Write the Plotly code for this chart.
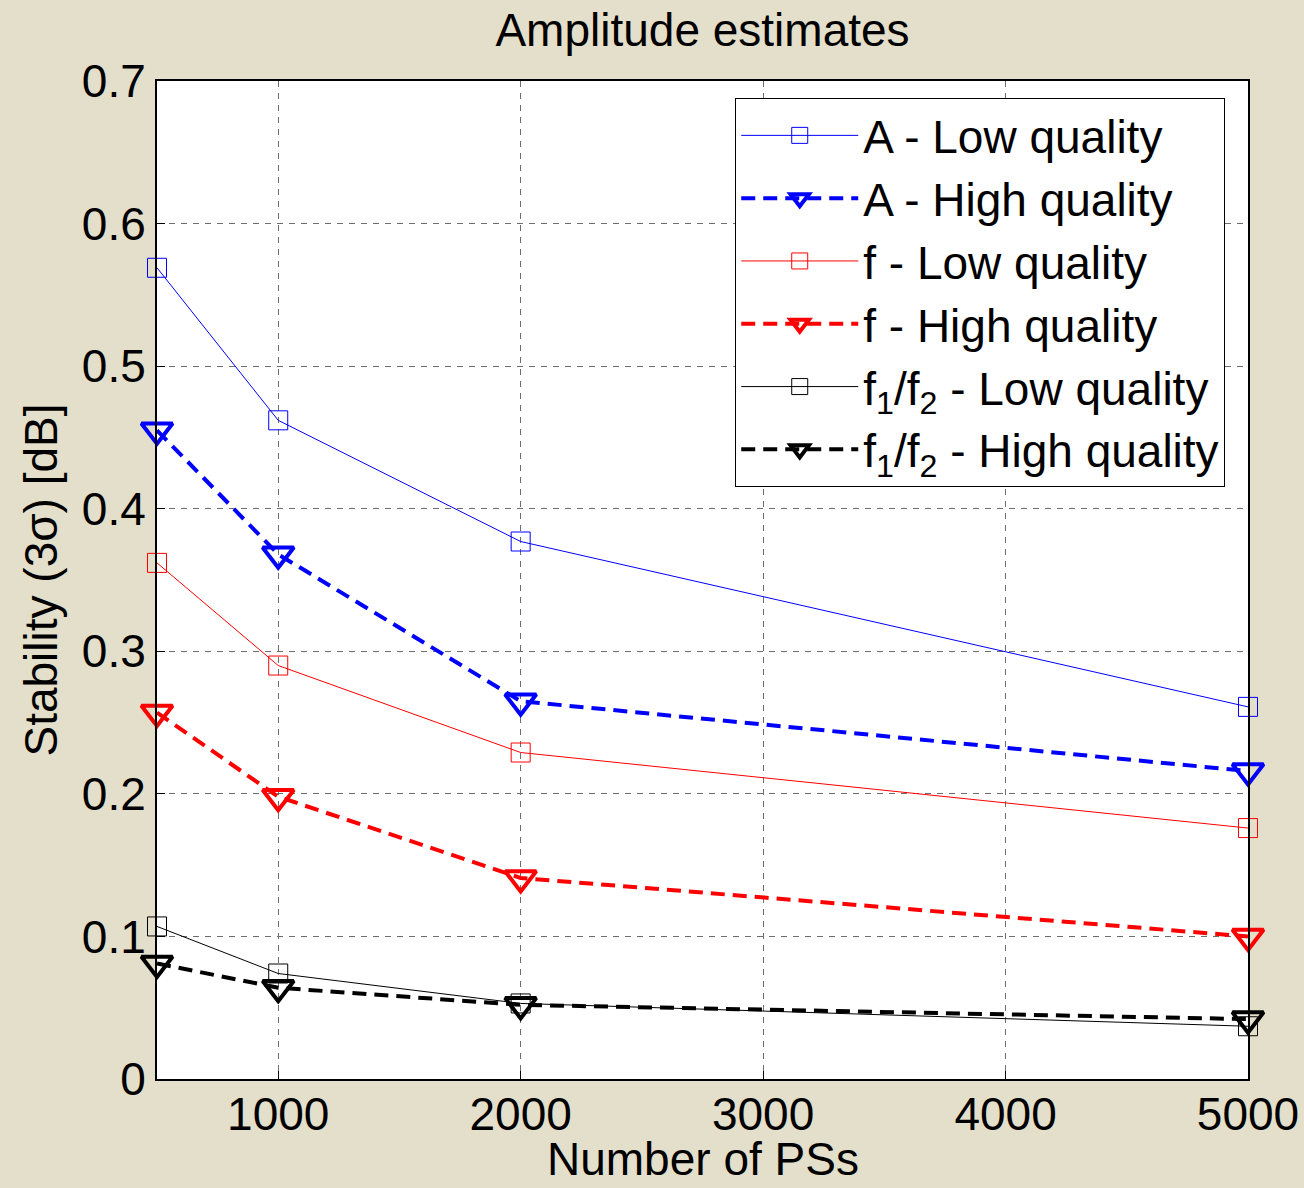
import plotly.graph_objects as go

x_vals = [500, 1000, 2000, 5000]
a_low = [0.569, 0.462, 0.377, 0.261]
a_high = [0.455, 0.368, 0.265, 0.216]
f_low = [0.362, 0.290, 0.229, 0.176]
f_high = [0.257, 0.198, 0.141, 0.100]
ff_low = [0.107, 0.074, 0.053, 0.037]
ff_high = [0.081, 0.064, 0.052, 0.042]

names = ["A - Low quality", "A - High quality", "f - Low quality", "f - High quality",
         "f<sub>1</sub>/f<sub>2</sub> - Low quality", "f<sub>1</sub>/f<sub>2</sub> - High quality"]
series = [a_low, a_high, f_low, f_high, ff_low, ff_high]
colors = ["#0000FF", "#0000FF", "#FF0000", "#FF0000", "#000000", "#000000"]

FONT = "Liberation Sans, Arial, sans-serif"
FS = 46
fig = go.Figure()
for i, (nm, ys, c) in enumerate(zip(names, series, colors)):
    high = (i % 2 == 1)
    fig.add_trace(go.Scatter(
        x=x_vals, y=ys, name=nm, mode="lines+markers", cliponaxis=False,
        line=dict(color=c, width=4 if high else 1, dash="14px,8px" if high else "solid"),
        marker=dict(symbol="triangle-down-open" if high else "square-open",
                    size=27 if high else 19, color=c,
                    line=dict(color=c, width=4 if high else 1)),
    ))

grid = dict(showgrid=True, gridcolor="#6e6e6e", gridwidth=1, griddash="6px,6px",
            showline=True, linecolor="black", linewidth=2, mirror=True,
            ticks="inside", ticklen=8, tickcolor="black", zeroline=False,
            automargin=False,
            tickfont=dict(size=FS, color="black", family=FONT))

fig.update_layout(
    width=1304, height=1188,
    paper_bgcolor="#E3DFCA", plot_bgcolor="white",
    margin=dict(l=157, r=56, t=81, b=109),
    font=dict(family=FONT, color="black"),
    title=dict(text="Amplitude estimates", x=0.5, xanchor="center", y=0.975, yanchor="middle",
               font=dict(size=FS, color="black", family=FONT), xref="paper"),
    xaxis=dict(range=[500, 5000], tickvals=[1000, 2000, 3000, 4000, 5000],
               ticklabelstandoff=-6, **grid),
    yaxis=dict(range=[0, 0.7], tickvals=[0, 0.1, 0.2, 0.3, 0.4, 0.5, 0.6, 0.7],
               ticktext=["0", "0.1", "0.2", "0.3", "0.4", "0.5", "0.6", "0.7"],
               title=dict(text="Stability (3σ) [dB]", font=dict(size=FS, family=FONT), standoff=10),
               **grid),
    legend=dict(x=0.530, y=0.983, xanchor="left", yanchor="top",
                bgcolor="white", bordercolor="black", borderwidth=1,
                font=dict(size=FS, color="black", family=FONT),
                tracegroupgap=0, itemwidth=117),
    showlegend=True,
)
fig.add_annotation(text="Number of PSs", xref="paper", yref="paper", x=0.5, y=-0.080,
                   xanchor="center", yanchor="middle", showarrow=False,
                   font=dict(size=FS, family=FONT, color="black"))
fig.write_html("out.html")
